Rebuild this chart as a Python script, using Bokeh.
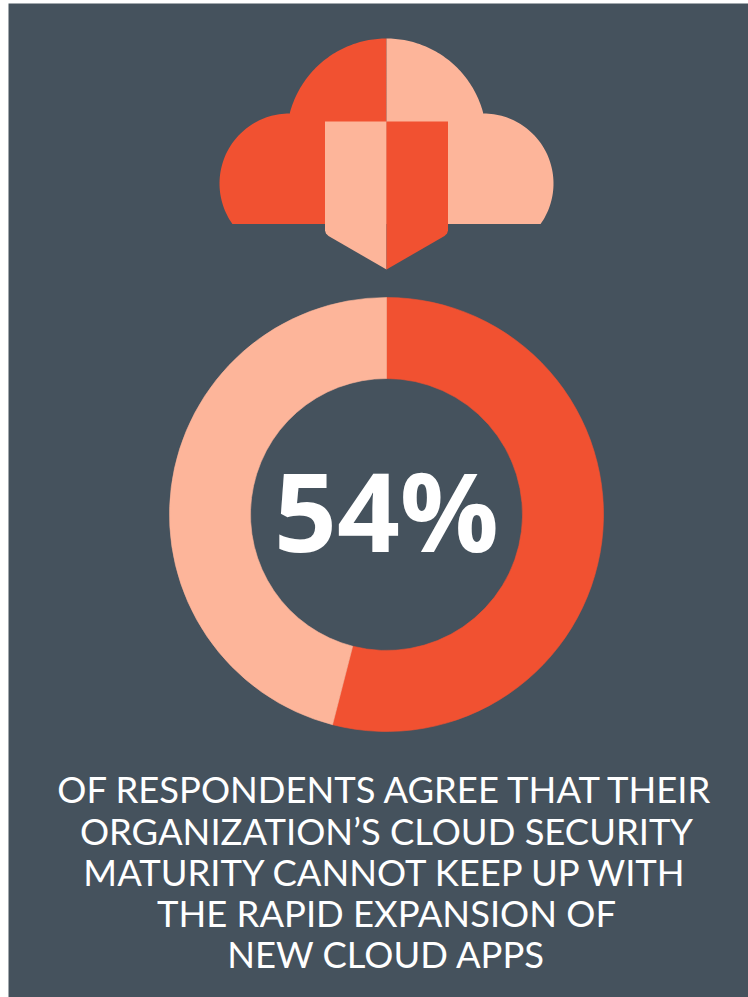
import numpy as np
from bokeh.core.properties import value
from bokeh.embed import file_html
from bokeh.models import Range1d
from bokeh.plotting import figure
from bokeh.resources import INLINE

# Survey result shown in the ring
shares = [54, 46]
headline = "54%"
caption = [
    "OF RESPONDENTS AGREE THAT THEIR",
    "ORGANIZATION\u2019S CLOUD SECURITY",
    "MATURITY CANNOT KEEP UP WITH",
    "THE RAPID EXPANSION OF",
    "NEW CLOUD APPS",
]

SLATE = "#45525D"
ORANGE = "#F15131"
PEACH = "#FDB59A"
WIDTH, HEIGHT = 748, 997
CX = 386


def arc(cx, cy, r, start, end, n=60):
    """Points on a circle; degrees run clockwise from straight up on screen."""
    a = np.radians(np.linspace(start, end, n))
    return cx + r * np.sin(a), cy - r * np.cos(a)


p = figure(width=WIDTH, height=HEIGHT, output_backend="svg", toolbar_location=None,
           x_range=Range1d(0, WIDTH), y_range=Range1d(HEIGHT, 0),
           min_border=0, outline_line_color=None, background_fill_color="white",
           border_fill_color="white")
p.axis.visible = False
p.grid.visible = False

# Panel behind everything
p.quad(left=8, right=WIDTH, top=3, bottom=HEIGHT, fill_color=SLATE, line_color=None)

# Cloud: crown circle plus one shoulder circle on each side, split down the middle
crown_r, crown_y = 100, 138
shoulder_r, shoulder_y, shoulder_dx = 70, 183, 97
base_y = 223.5
crown_a = np.degrees(np.arcsin(shoulder_dx / crown_r))
low_a = 180 + np.degrees(np.arccos((base_y - shoulder_y) / shoulder_r))
lx1, ly1 = arc(CX, crown_y, crown_r, 0, -crown_a)
lx2, ly2 = arc(CX - shoulder_dx, shoulder_y, shoulder_r, 0, -(360 - low_a))
half_x = np.concatenate([lx1, lx2, [CX]]) - CX
half_y = np.concatenate([ly1, ly2, [base_y]])
p.patch(CX + half_x, half_y, fill_color=ORANGE, line_color=None)
p.patch(CX - half_x, half_y, fill_color=PEACH, line_color=None)

# Shield over the cloud, with the colours swapped
sh_x = np.array([0, -61.5, -61.5, -60.5, -58, 0])
sh_y = np.array([121, 121, 230, 233, 235.5, 269])
p.patch(CX + sh_x, sh_y, fill_color=PEACH, line_color=None)
p.patch(CX - sh_x, sh_y, fill_color=ORANGE, line_color=None)

# Donut, clockwise from twelve o'clock; wedge angles are measured on screen
ring_y = 514
fractions = np.cumsum([0] + shares) / sum(shares)
starts = np.pi / 2 - 2 * np.pi * fractions[1:]
ends = np.pi / 2 - 2 * np.pi * fractions[:-1]
p.annular_wedge(x=[CX, CX], y=[ring_y, ring_y], inner_radius=136, outer_radius=217,
                start_angle=starts, end_angle=ends, direction="anticlock",
                fill_color=[ORANGE, PEACH], line_color=[ORANGE, PEACH], line_width=0.6)

p.text(x=[CX], y=[508], text=[headline], text_align="center", text_baseline="middle",
       text_color="white", text_font=value("Open Sans"), text_font_style="bold",
       text_font_size="110px")

line_y = [788, 830, 871, 912, 953]
p.text(x=[CX] * len(caption), y=line_y, text=caption, text_align="center",
       text_baseline="middle", text_color="white", text_font=value("Lato"),
       text_font_size="36.4px")

open("out.html", "w").write(file_html(p, INLINE))
